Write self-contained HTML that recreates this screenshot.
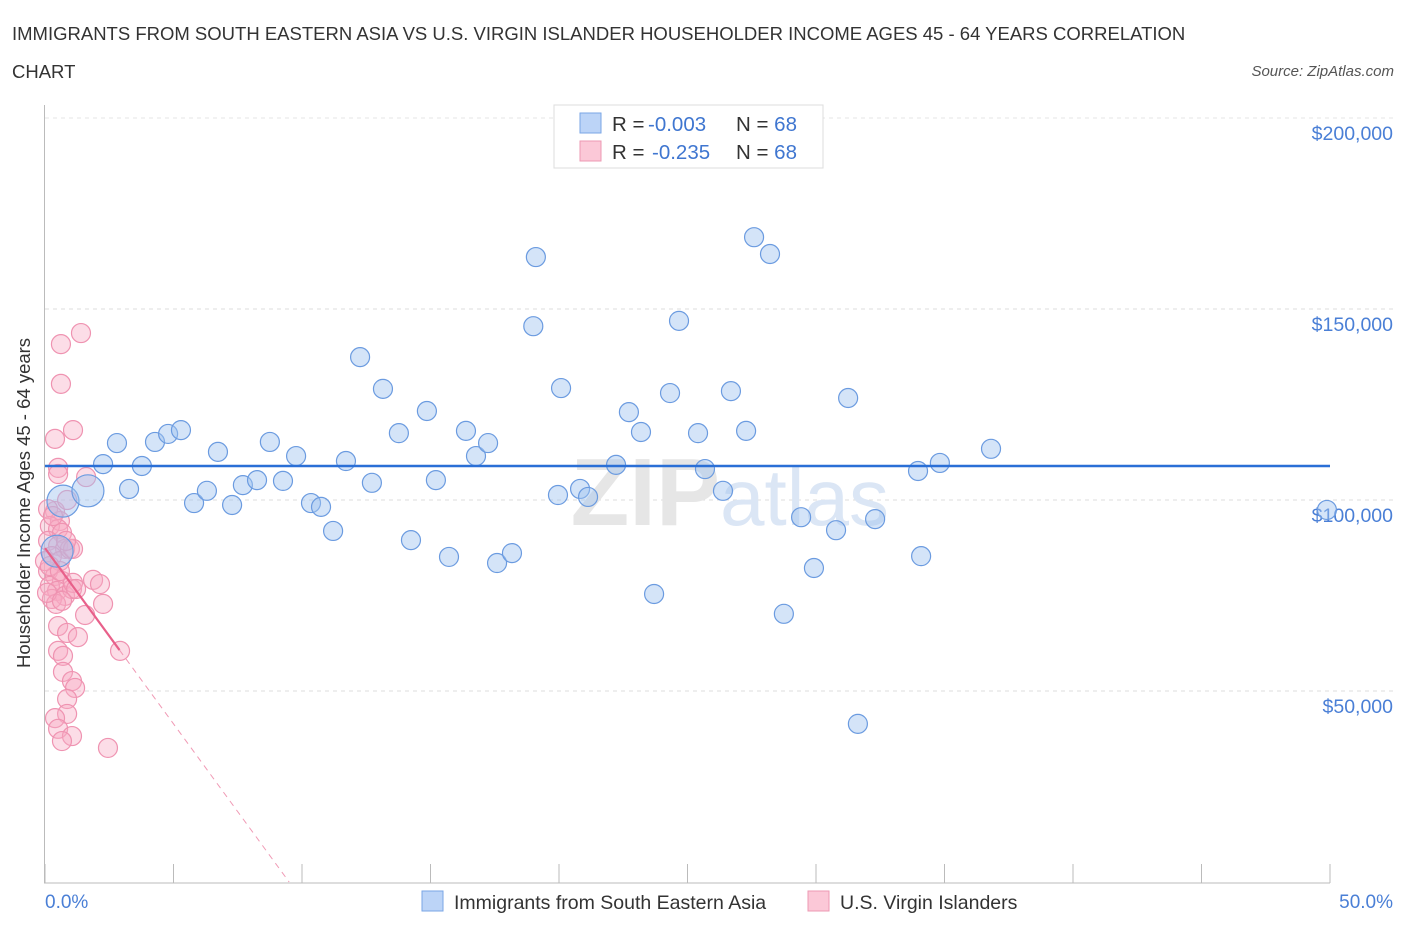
<!DOCTYPE html>
<html><head><meta charset="utf-8">
<style>
body{margin:0;background:#fff;font-family:"Liberation Sans",sans-serif;}
svg text{font-family:"Liberation Sans",sans-serif;}
</style></head>
<body>
<svg width="1406" height="930" viewBox="0 0 1406 930">
<text x="12" y="40" font-size="18.5" fill="#333">IMMIGRANTS FROM SOUTH EASTERN ASIA VS U.S. VIRGIN ISLANDER HOUSEHOLDER INCOME AGES 45 - 64 YEARS CORRELATION</text>
<text x="12" y="78" font-size="18.5" fill="#333">CHART</text>
<text x="1394" y="76" font-size="15" fill="#555" font-style="italic" text-anchor="end">Source: ZipAtlas.com</text>
<g id="grid"></g>
<text x="720" y="525" font-size="96" fill="#e6e6e6" text-anchor="end" font-family="Liberation Serif" font-weight="bold">ZIP</text>
<text x="720" y="525" font-size="80" fill="#dbe6f5">atlas</text>
<g id="axes"></g>
<g id="pink"></g>
<g id="blue"></g>
<g id="lines"></g>
<text x="20" y="493" font-size="18.5" fill="#333" text-anchor="middle" transform="rotate(-90 30 493)">Householder Income Ages 45 - 64 years</text>
<text x="45" y="908" font-size="19" fill="#4a7fd6">0.0%</text>
<text x="1393" y="908" font-size="19" fill="#4a7fd6" text-anchor="end">50.0%</text>
<g>
<rect x="554" y="105" width="269" height="63" fill="#fff" stroke="#ddd"/>
<rect x="580" y="113" width="21" height="20" fill="#bcd4f7" stroke="#7aa6e6"/>
<rect x="580" y="141" width="21" height="20" fill="#fbc8d7" stroke="#ec99b3"/>
<text x="612" y="131" font-size="20.5" fill="#333">R =<tspan x="648" fill="#3f76d0">-0.003</tspan><tspan x="736">N = </tspan><tspan fill="#3f76d0">68</tspan></text>
<text x="612" y="159" font-size="20.5" fill="#333">R =<tspan x="652" fill="#3f76d0">-0.235</tspan><tspan x="736">N = </tspan><tspan fill="#3f76d0">68</tspan></text>
</g>
<g>
<rect x="422" y="891" width="21" height="20" fill="#bcd4f7" stroke="#7aa6e6"/>
<text x="454" y="909" font-size="19.5" fill="#333">Immigrants from South Eastern Asia</text>
<rect x="808" y="891" width="21" height="20" fill="#fbc8d7" stroke="#ec99b3"/>
<text x="840" y="909" font-size="19.5" fill="#333">U.S. Virgin Islanders</text>
</g>
</svg>
<script>
const yTicks=[50000,100000,150000,200000];
const yTickLabels=["$50,000","$100,000","$150,000","$200,000"];
const xTicks=[0,5,10,15,20,25,30,35,40,45,50];
const blueX=[0.70,1.67,2.26,2.80,3.27,3.77,4.28,4.79,5.29,5.80,6.30,6.73,7.28,7.70,8.25,8.75,9.26,9.77,10.35,10.74,11.21,11.71,12.26,12.72,13.15,13.77,14.24,14.86,15.21,15.72,16.38,16.77,17.24,17.59,18.17,19.0,19.1,19.96,20.08,20.82,21.13,22.22,22.72,23.19,23.70,24.32,24.67,25.41,25.68,26.38,26.69,27.28,27.59,28.21,28.75,29.42,29.92,30.78,31.25,31.63,32.30,33.97,34.09,34.82,36.81,49.88,0.47];
const blueY=[99.7,102.4,109.4,114.9,102.9,108.9,115.2,117.3,118.3,99.2,102.4,112.6,98.7,103.9,105.2,115.2,105.0,111.5,99.2,98.2,91.9,110.2,137.4,104.5,129.1,117.5,89.5,123.3,105.2,85.1,118.1,111.5,114.9,83.5,86.1,145.5,163.6,101.3,129.3,102.9,100.8,109.2,123.0,117.8,75.4,128.0,146.9,117.5,108.1,102.4,128.5,118.1,168.8,164.4,70.2,95.5,82.2,92.1,126.7,41.4,95.0,107.6,85.3,109.7,113.4,97.4,86.6];
const pinkX=[0.62,1.40,0.62,0.39,1.09,0.51,0.51,1.60,0.39,0.12,0.86,0.58,0.19,0.51,0.66,0.12,0.51,0.78,0.27,0.58,0.97,0.12,0.39,0.66,0.19,0.47,0.78,0.27,1.05,0.43,0.0,0.08,1.09,1.87,1.09,2.26,1.56,0.51,0.86,1.28,2.92,0.51,0.70,0.70,1.05,1.17,0.86,0.86,0.39,0.51,1.05,0.66,2.45,2.14,1.21,0.66,0.31,0.82,0.19,0.58];
const pinkY=[140.8,143.7,130.4,116.0,118.3,108.4,106.8,106.0,97.1,97.6,100.0,94.5,93.2,92.4,91.4,89.3,88.0,87.2,85.3,84.0,87.2,81.4,80.1,78.8,77.5,76.2,74.9,74.1,76.7,72.8,84.0,75.7,87.2,79.1,78.3,72.8,69.9,67.0,65.2,64.1,60.5,60.5,59.2,55.0,52.6,50.8,47.9,44.0,42.9,40.1,38.2,36.9,35.1,78.0,76.7,73.6,95.8,89.3,82.7,81.4];
const blueTrend=[0,50,108.9,108.9];
const pinkTrend=[0,2.9,9.5,87.4,-9.2];
const NS="http://www.w3.org/2000/svg";
const X=p=>45+p*25.7;
const Y=k=>882-k*3.82;
function mk(tag,at,parent){const e=document.createElementNS(NS,tag);for(const k in at)e.setAttribute(k,at[k]);parent.appendChild(e);return e;}
const grid=document.getElementById('grid'),axes=document.getElementById('axes');
yTicks.forEach((t,i)=>{
  const l=mk('line',{x1:45,x2:1393,y1:Y(t/1000),y2:Y(t/1000),stroke:'#ddd','stroke-dasharray':'4,4'},grid);
  
  
  const tx=mk('text',{x:1393,y:Y(t/1000)+22,'font-size':19.5,fill:'#4a7fd6','text-anchor':'end'},grid);
  tx.textContent=yTickLabels[i];
  
  
});
const tl=mk('line',{x1:45,x2:1393,y1:118,y2:118,stroke:'#e4e4e4','stroke-dasharray':'4,4'},grid);


const ya=mk('line',{x1:44.5,x2:44.5,y1:105,y2:883,stroke:'#bbb'},axes);


const xa=mk('line',{x1:44,x2:1330,y1:883,y2:883,stroke:'#bbb'},axes);


xTicks.forEach(t=>{const l=mk('line',{x1:X(t),x2:X(t),y1:864,y2:883,stroke:'#bbb'},axes);
  
  });
const pg=document.getElementById('pink');
pinkX.forEach((v,i)=>{const c=mk('circle',{cx:X(v),cy:Y(pinkY[i]),r:9.5,fill:'rgba(248,170,195,0.4)',stroke:'#ef93b1','stroke-width':1.2},pg);
  
  });
const bg=document.getElementById('blue');
blueX.forEach((v,i)=>{const c=mk('circle',{cx:X(v),cy:Y(blueY[i]),r:(i<2||i==66)?16:9.5,fill:'rgba(160,196,240,0.45)',stroke:'#6b9be0','stroke-width':1.2},bg);
  
  });
const lg=document.getElementById('lines');
const bl=mk('line',{x1:X(blueTrend[0]),x2:X(blueTrend[1]),y1:Y(blueTrend[2]),y2:Y(blueTrend[3]),stroke:'#2a6fd6','stroke-width':2.5},lg);


const pv=x=>pinkTrend[3]+pinkTrend[4]*x;
const ps=mk('line',{x1:X(pinkTrend[0]),x2:X(pinkTrend[1]),y1:Y(pv(pinkTrend[0])),y2:Y(pv(pinkTrend[1])),stroke:'#e8608a','stroke-width':2.2},lg);


const pd=mk('line',{x1:X(pinkTrend[1]),x2:X(pinkTrend[2]),y1:Y(pv(pinkTrend[1])),y2:Y(pv(pinkTrend[2])),stroke:'#f09ab5','stroke-width':1,'stroke-dasharray':'6,5'},lg);


</script>
</body></html>
